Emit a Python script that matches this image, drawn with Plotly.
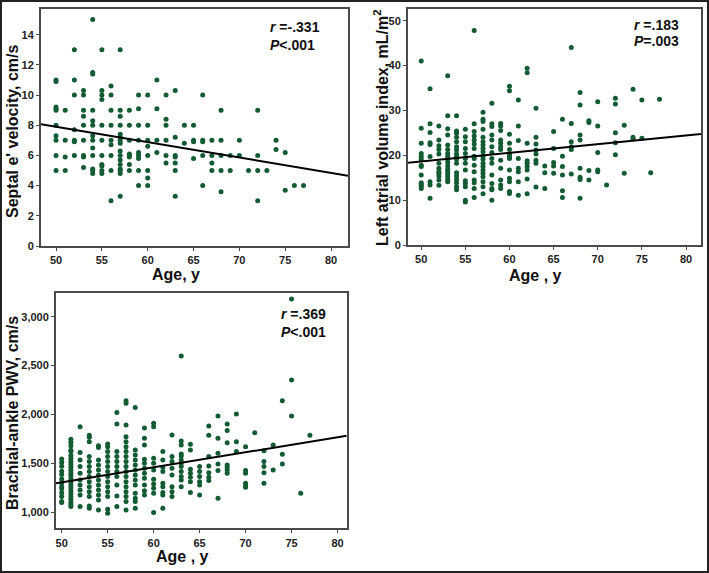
import plotly.graph_objects as go

# ---------------- data ----------------
# Panel A: septal e' velocity (cm/s) by age
septal_ages = [50, 51, 52, 53, 54, 55, 56, 57, 58, 59, 60, 61, 62, 63, 64, 65, 66, 67, 68, 69, 70, 71, 72, 73, 74, 75, 76, 77]
septal_vals = [
    [11, 10.9, 9.2, 9.1, 9.0, 8, 7.3, 7, 6, 5],
    [9, 7, 5.9, 5],
    [13, 11, 10, 7.7, 7, 6.9, 6],
    [10.3, 10, 9, 8.6, 8, 7, 6, 5.9, 5.2],
    [15, 11.5, 11.4, 9, 8.3, 8, 7.3, 7, 6.5, 6, 5.1, 5, 4.8],
    [13, 10.3, 10, 9.7, 8, 7, 6, 5.4, 5.3, 5, 4.8],
    [10.6, 10, 9, 8, 7, 6.7, 6, 5, 3],
    [13, 9, 8.6, 8, 7.4, 7.2, 7, 6.8, 6.3, 6, 5.7, 5.4, 5.1, 5, 4.8, 3.3],
    [9, 8, 7, 6.1, 6, 5.9, 5.4, 5],
    [10, 9.1, 8, 7, 6.2, 6, 5.8, 5, 4],
    [10, 8, 7, 6.6, 6, 5, 4.5, 4],
    [11, 9.1, 7, 6.2],
    [10, 8.4, 8, 7, 6, 5.5],
    [10.3, 7.2, 6, 5.9, 5.5, 5, 3.3],
    [8, 6.8],
    [8, 7, 6.9, 5.8],
    [10, 7, 6.9, 6, 4],
    [7, 6, 5.5, 5],
    [9, 7, 6, 5, 3.6],
    [6, 5],
    [7, 6],
    [5],
    [9, 6, 5, 3],
    [5],
    [7, 6.4],
    [6.2, 3.7],
    [4],
    [4],
]
septal_fit = (13.02, -0.1023)  # intercept, slope
septal_stats = ("-.331", "<.001")

# Panel B: left atrial volume index (mL/m2) by age
lavi_ages = [50, 51, 52, 53, 54, 55, 56, 57, 58, 59, 60, 61, 62, 63, 64, 65, 66, 67, 68, 69, 70, 71, 72, 73, 74, 75, 76, 77]
lavi_vals = [
    [41, 26, 22.7, 20.4, 19.7, 19.1, 17.8, 17.5, 15.6, 13.9, 13.5, 13.1, 12.6],
    [34.8, 27, 25.1, 22.8, 22.4, 19.7, 14.1, 13.4, 10.4],
    [26.5, 23.4, 22.1, 21.3, 20.3, 18.2, 17.1, 16.3, 16, 15.4, 14.5, 13.3],
    [37.7, 28.8, 25.9, 24.5, 22.3, 21.3, 20.4, 19.8, 19.1, 18.4, 17.6, 16.9, 16.3, 15.8, 15.2, 14.6, 14.1],
    [28.8, 25.4, 24.9, 24, 23, 21.9, 21.2, 20.3, 19.7, 19.1, 18.2, 16.1, 15.4, 14.6, 13.9, 13, 12.3],
    [25.8, 24.1, 23, 21.5, 20.4, 19.3, 18.2, 16.7, 14.3, 13.7, 13, 10, 9.6],
    [47.8, 27, 25.3, 24.3, 23.4, 22.5, 21.5, 19.8, 19.3, 17.8, 16.3, 14.5, 13.9, 12.6, 10.6],
    [29.6, 28, 27.5, 25.8, 24, 23, 22.3, 21.5, 20.8, 19.8, 19.1, 18.2, 17.5, 16.7, 16, 15.2, 14.1, 13, 11.4],
    [31.6, 27, 26.4, 24.5, 23.4, 21.9, 20.6, 19.3, 18.2, 15.6, 13.7, 12.6, 12.3, 10],
    [27.1, 26.5, 25.5, 23.4, 22.7, 21.9, 21.3, 18.9, 17.1, 14.5, 13.4, 12.6],
    [35.4, 34.4, 24.7, 22.7, 21.3, 20.3, 19.7, 19.3, 16.7, 14.9, 14.1, 11.9, 11.5],
    [32.3, 26.5, 23.3, 19.3, 17.1, 16.3, 14.1, 11.1],
    [39.4, 38.4, 22.7, 18.8, 18.2, 17.5, 16.7, 14.7, 11.4],
    [30.5, 24, 22.5, 21.2, 20.3, 18.9, 18.2, 12.9],
    [17.6, 16.1, 12.6],
    [25.3, 21.5, 18.4, 17.6, 16],
    [28, 19.8, 17.5, 15.6, 12.1, 10.6],
    [44, 27.1, 23, 21.9, 21.3, 15.8],
    [34, 31.2, 24.5, 23.4, 17.1, 15.1, 14.6, 10.4],
    [27.7, 27.3, 16.6, 14.5],
    [31.9, 26.5, 20.6, 16.7, 16.3],
    [13.4],
    [32.7, 31.4, 25, 22.8, 20.1],
    [26.7, 16],
    [34.7, 24, 23.6],
    [32.3, 23.8],
    [16.1],
    [32.5],
]
lavi_fit = (9.01, 0.1925)
lavi_stats = (".183", "=.003")

# Panel C: brachial-ankle PWV (cm/s) by age
pwv_ages = [50, 51, 52, 53, 54, 55, 56, 57, 58, 59, 60, 61, 62, 63, 64, 65, 66, 67, 68, 69, 70, 71, 72, 73, 74, 75, 76, 77]
pwv_vals = [
    [1545, 1510, 1470, 1420, 1385, 1340, 1300, 1260, 1240, 1200, 1160, 1110, 1100],
    [1746, 1715, 1680, 1635, 1620, 1580, 1550, 1520, 1490, 1460, 1430, 1400, 1370, 1340, 1310, 1280, 1250, 1220, 1190, 1160, 1130, 1100, 1080, 1060],
    [1875, 1610, 1535, 1467, 1400, 1330, 1280, 1228, 1177, 1058],
    [1787, 1767, 1722, 1570, 1518, 1467, 1416, 1365, 1313, 1262, 1211, 1160, 1065, 1041],
    [1681, 1661, 1535, 1484, 1433, 1382, 1330, 1280, 1228, 1177, 1126, 1024],
    [1698, 1671, 1620, 1570, 1518, 1467, 1416, 1365, 1313, 1262, 1211, 1160, 1031, 990],
    [2019, 1903, 1620, 1570, 1518, 1467, 1416, 1365, 1280, 1167, 1058],
    [2141, 2114, 1893, 1773, 1722, 1671, 1620, 1570, 1518, 1467, 1416, 1365, 1313, 1262, 1211, 1160, 1109, 1024],
    [2070, 1637, 1586, 1535, 1484, 1433, 1382, 1330, 1280, 1194, 1143, 1109, 1041],
    [1862, 1756, 1688, 1542, 1501, 1450, 1399, 1348, 1280, 1221, 1177],
    [1910, 1875, 1552, 1501, 1433, 1337, 1290, 1245, 1194, 997],
    [1620, 1535, 1457, 1416, 1296, 1262, 1201, 1177, 1041],
    [1790, 1570, 1518, 1450, 1382, 1262, 1211, 1160],
    [2598, 1729, 1688, 1596, 1576, 1535, 1501, 1467, 1416, 1365, 1330, 1262],
    [1695, 1637, 1440, 1399, 1358, 1313, 1201],
    [1467, 1416, 1365, 1313, 1280, 1177],
    [1882, 1787, 1570, 1474, 1405, 1358, 1324],
    [1985, 1756, 1603, 1494, 1426, 1143],
    [1903, 1835, 1712, 1484, 1460, 1433, 1399],
    [2005, 1722, 1620],
    [1671, 1426, 1399, 1296, 1269, 1255],
    [1814],
    [1630, 1518, 1467, 1405, 1296],
    [1688, 1433],
    [2141, 1593, 1494],
    [3181, 2353, 1985],
    [1194],
    [1787],
]
pwv_fit = (535.0, 15.4)
pwv_stats = (".369", "<.001")

# ---------------- helpers ----------------
def flatten(ages, vals):
    xs, ys = [], []
    for a, vs in zip(ages, vals):
        for v in vs:
            xs.append(a)
            ys.append(v)
    return xs, ys

W, H = 709, 573
def px(x):
    return x / W
def py(y):
    return 1 - y / H

FONT = "Arial, Liberation Sans, sans-serif"
GREEN = "#135b33"
FRAME = "#4a4a4a"
TITLE_FONT = dict(family=FONT, size=16, color="#111", weight="bold")
STAT_FONT = dict(family=FONT, size=14, color="#111", weight="bold")

panels = [
    dict(ages=septal_ages, vals=septal_vals, fit=septal_fit, stats=septal_stats,
         xdom=[px(41), px(348)], ydom=[py(246), py(9)],
         xrange=[48.36, 81.85], yrange=[0, 15.7], ytick=dict(tick0=0, dtick=2), yfmt="",
         ytitle="Septal e' velocity, cm/s", xtitle="Age, y",
         ytitle_pos=(12, 132), xtitle_pos=(175.5, 274),
         ann_x=268, ann_y=(27, 44.5), stat_sym="P"),
    dict(ages=lavi_ages, vals=lavi_vals, fit=lavi_fit, stats=lavi_stats,
         xdom=[px(408), px(701)], ydom=[py(245), py(9)],
         xrange=[48.5, 81.7], yrange=[0, 52.6], ytick=dict(tick0=0, dtick=10), yfmt="",
         ytitle="Left atrial volume index, mL/m<sup>2</sup>", xtitle="Age , y",
         ytitle_pos=(381, 128), xtitle_pos=(535, 275),
         ann_x=632, ann_y=(25, 41), stat_sym="P"),
    dict(ages=pwv_ages, vals=pwv_vals, fit=pwv_fit, stats=pwv_stats,
         xdom=[px(56), px(346.7)], ydom=[py(528.3), py(292.7)],
         xrange=[49.38, 81.0], yrange=[836, 3245], ytick=dict(tick0=1000, dtick=500), yfmt=",",
         ytitle="Brachial-ankle PWV, cm/s", xtitle="Age , y",
         ytitle_pos=(12, 413), xtitle_pos=(182, 556.5),
         ann_x=279, ann_y=(314, 332), stat_sym="P"),
]

fig = go.Figure()
annotations = []
for i, p in enumerate(panels, start=1):
    xs, ys = flatten(p["ages"], p["vals"])
    suffix = "" if i == 1 else str(i)
    fig.add_trace(go.Scatter(
        x=xs, y=ys, mode="markers",
        marker=dict(color=GREEN, size=5, line=dict(width=0)),
        xaxis="x" + suffix, yaxis="y" + suffix, showlegend=False, hoverinfo="x+y"))
    b0, b1 = p["fit"]
    lx = list(p["xrange"])
    fig.add_trace(go.Scatter(
        x=lx, y=[b0 + b1 * v for v in lx], mode="lines",
        line=dict(color="black", width=2),
        xaxis="x" + suffix, yaxis="y" + suffix, showlegend=False, hoverinfo="skip"))

    common = dict(showgrid=False, zeroline=False, showline=True, linecolor=FRAME, linewidth=2,
                  mirror=True, ticks="outside", ticklen=3, tickwidth=1, tickcolor=FRAME,
                  automargin=False,
                  tickfont=dict(family=FONT, size=11, color="#222", weight="bold"))
    fig.layout["xaxis" + suffix] = dict(
        common, domain=p["xdom"], range=p["xrange"], tick0=50, dtick=5, anchor="y" + suffix)
    fig.layout["yaxis" + suffix] = dict(
        common, domain=p["ydom"], range=p["yrange"], tickformat=p["yfmt"],
        anchor="x" + suffix, **p["ytick"])

    # axis titles
    annotations.append(dict(xref="paper", yref="paper", x=px(p["xtitle_pos"][0]), y=py(p["xtitle_pos"][1]),
                            xanchor="center", yanchor="middle", showarrow=False,
                            text=p["xtitle"], font=TITLE_FONT))
    annotations.append(dict(xref="paper", yref="paper", x=px(p["ytitle_pos"][0]), y=py(p["ytitle_pos"][1]),
                            xanchor="center", yanchor="middle", showarrow=False, textangle=-90,
                            text=p["ytitle"], font=TITLE_FONT))

    r_txt, p_txt = p["stats"]
    annotations.append(dict(xref="paper", yref="paper", x=px(p["ann_x"]), y=py(p["ann_y"][0]),
                            xanchor="left", yanchor="middle", showarrow=False,
                            text="<i>r</i> =" + r_txt, font=STAT_FONT))
    annotations.append(dict(xref="paper", yref="paper", x=px(p["ann_x"]), y=py(p["ann_y"][1]),
                            xanchor="left", yanchor="middle", showarrow=False,
                            text="<i>" + p["stat_sym"] + "</i>" + p_txt, font=STAT_FONT))

fig.update_layout(
    width=W, height=H, margin=dict(l=0, r=0, t=0, b=0, autoexpand=False),
    paper_bgcolor="white", plot_bgcolor="white",
    annotations=annotations,
    shapes=[dict(type="rect", xref="paper", yref="paper",
                 x0=px(1), x1=px(708), y0=py(572), y1=py(1),
                 line=dict(color="#222", width=2), fillcolor="rgba(0,0,0,0)")],
)

fig.write_html("out.html", config={"displayModeBar": False},
               post_script="document.body.style.margin='0';document.body.style.overflow='hidden';")
